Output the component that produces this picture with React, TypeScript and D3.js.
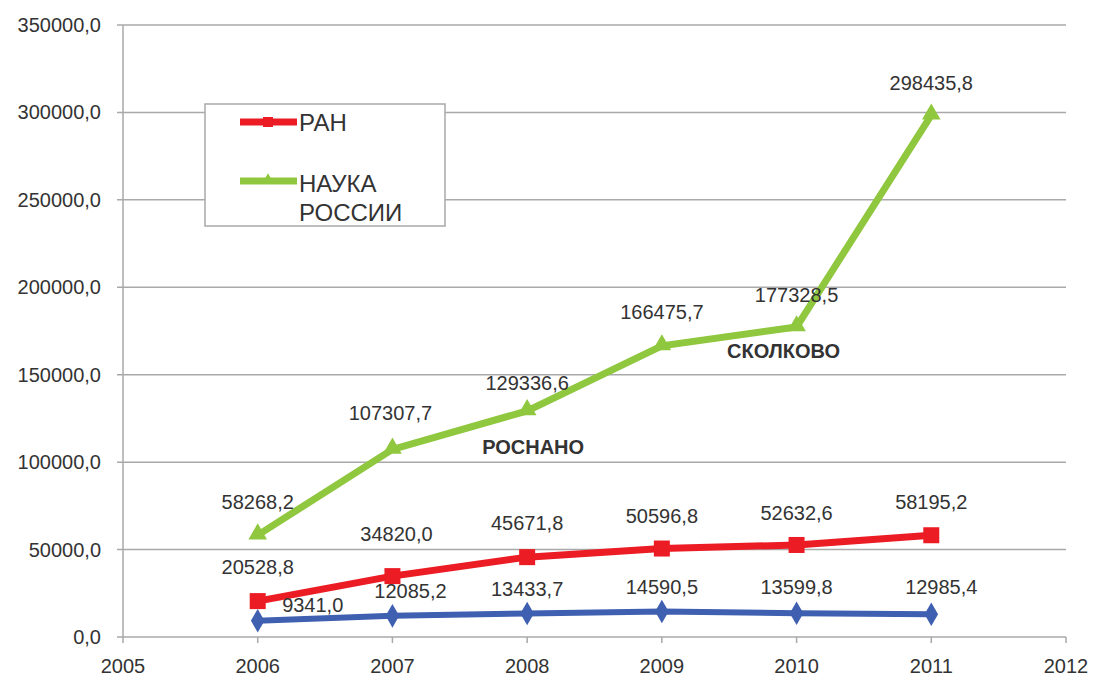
import React from "react";
import * as d3 from "d3";

const years = [2006, 2007, 2008, 2009, 2010, 2011];
const ranValues = [20528.8, 34820.0, 45671.8, 50596.8, 52632.6, 58195.2];
const naukaValues = [58268.2, 107307.7, 129336.6, 166475.7, 177328.5, 298435.8];
const blueValues = [9341.0, 12085.2, 13433.7, 14590.5, 13599.8, 12985.4];
const xTicks = [2005, 2006, 2007, 2008, 2009, 2010, 2011, 2012];
const yTicks = [0, 50000, 100000, 150000, 200000, 250000, 300000, 350000];
const legendNames = ["РАН", "НАУКА", "РОССИИ"];
const annotations = [
  { text: "РОСНАНО", year: 2008, value: 129336.6 },
  { text: "СКОЛКОВО", year: 2010, value: 177328.5 },
];

const fmt = (v: number) => v.toFixed(1).replace(".", ",");

const W = 1097, H = 680;
const x = d3.scaleLinear().domain([2005, 2012]).range([123, 1066]);
const y = d3.scaleLinear().domain([0, 350000]).range([637, 25]);

const GREEN = "#8fc73e";
const RED = "#ec1c24";
const BLUE = "#3f60b0";
const TEXT = "#333";
const FONT = "'Liberation Sans', Arial, sans-serif";
const FS = 20;

// label offsets (dx, dy) relative to point
const ranLabelOff = [[0, -34], [4, -42], [0, -34], [0, -33], [0, -32], [0, -33]];
const naukaLabelOff = [[0, -33], [-2, -36], [0, -28], [0, -34], [0, -32], [0, -32]];
const blueLabelOff = [[55, -16], [18, -25], [0, -25], [0, -24], [0, -26], [10, -27]];

export default function App() {
  const line = d3.line<number>().x((_, i) => x(years[i])).y((d) => y(d));
  const tri = d3.symbol().type(d3.symbolTriangle).size(150)()!;
  const dia = d3.symbol().type(d3.symbolDiamond).size(160)()!;
  return (
    <svg width={W} height={H} style={{ display: "block", position: "absolute", left: 0, top: 0 }} fontFamily={FONT}>
      <rect width={W} height={H} fill="#fff" />
      {/* grid */}
      {yTicks.map((t) => (
        <g key={t}>
          <line x1={117} x2={1066} y1={y(t)} y2={y(t)} stroke="#a9a9a9" strokeWidth={1.5} />
          <text x={101} y={y(t)} dy="0.35em" textAnchor="end" fontSize={FS} fill={TEXT}>{fmt(t)}</text>
        </g>
      ))}
      <line x1={123} x2={123} y1={25} y2={637} stroke="#a9a9a9" strokeWidth={1.5} />
      {xTicks.map((t) => (
        <g key={t}>
          <line x1={x(t)} x2={x(t)} y1={637} y2={643} stroke="#a9a9a9" strokeWidth={1.5} />
          <text x={x(t)} y={673} textAnchor="middle" fontSize={FS} fill={TEXT}>{t}</text>
        </g>
      ))}
      {/* series */}
      <path d={line(blueValues)!} fill="none" stroke={BLUE} strokeWidth={6} />
      <path d={line(ranValues)!} fill="none" stroke={RED} strokeWidth={7} />
      <path d={line(naukaValues)!} fill="none" stroke={GREEN} strokeWidth={7} />
      {blueValues.map((v, i) => (
        <path key={"b" + i} d={dia} transform={`translate(${x(years[i])},${y(v)})`} fill={BLUE} />
      ))}
      {ranValues.map((v, i) => (
        <rect key={"r" + i} x={x(years[i]) - 8} y={y(v) - 8} width={16} height={16} fill={RED} />
      ))}
      {naukaValues.map((v, i) => (
        <path key={"g" + i} d={tri} transform={`translate(${x(years[i])},${y(v) - 1})`} fill={GREEN} />
      ))}
      {/* labels */}
      {naukaValues.map((v, i) => (
        <text key={"gl" + i} x={x(years[i]) + naukaLabelOff[i][0]} y={y(v) + naukaLabelOff[i][1]} dy="0.35em" textAnchor="middle" fontSize={FS} fill={TEXT}>{fmt(v)}</text>
      ))}
      {ranValues.map((v, i) => (
        <text key={"rl" + i} x={x(years[i]) + ranLabelOff[i][0]} y={y(v) + ranLabelOff[i][1]} dy="0.35em" textAnchor="middle" fontSize={FS} fill={TEXT}>{fmt(v)}</text>
      ))}
      {blueValues.map((v, i) => (
        <text key={"bl" + i} x={x(years[i]) + blueLabelOff[i][0]} y={y(v) + blueLabelOff[i][1]} dy="0.35em" textAnchor="middle" fontSize={FS} fill={TEXT}>{fmt(v)}</text>
      ))}
      {annotations.map((a, i) => (
        <text key={"a" + i} x={x(a.year) + (i === 0 ? 6 : -13)} y={y(a.value) + (i === 0 ? 36 : 24)} dy="0.35em" textAnchor="middle" fontSize={20} fontWeight="bold" fill={TEXT}>{a.text}</text>
      ))}
      {/* legend */}
      <rect x={205} y={104} width={240} height={122} fill="#fff" stroke="#a9a9a9" strokeWidth={1.5} />
      <line x1={240} x2={297} y1={122} y2={122} stroke={RED} strokeWidth={7} />
      <rect x={263} y={117} width={10} height={10} fill={RED} />
      <text x={299} y={123} dy="0.35em" fontSize={24} fill={TEXT}>{legendNames[0]}</text>
      <line x1={240} x2={297} y1={181} y2={181} stroke={GREEN} strokeWidth={7} />
      <path d={d3.symbol().type(d3.symbolTriangle).size(60)()!} transform="translate(268,180)" fill={GREEN} />
      <text x={299} y={184} dy="0.35em" fontSize={24} fill={TEXT}>{legendNames[1]}</text>
      <text x={299} y={213} dy="0.35em" fontSize={24} fill={TEXT}>{legendNames[2]}</text>
    </svg>
  );
}
